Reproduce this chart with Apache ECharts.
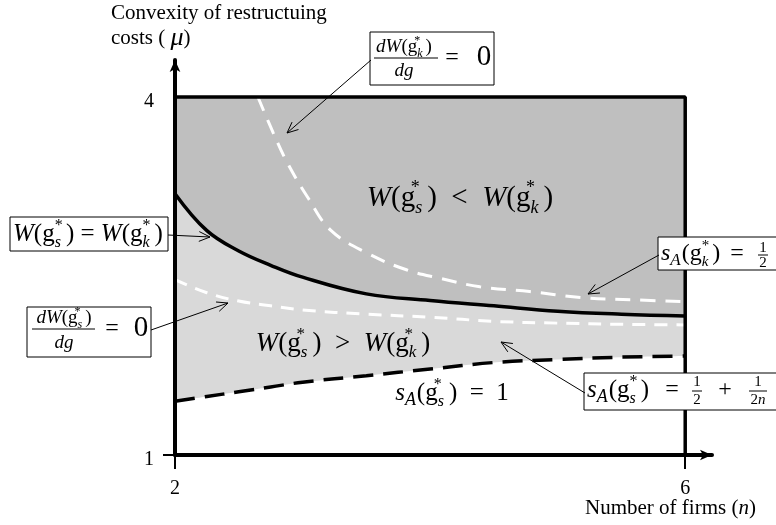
<!DOCTYPE html>
<html>
<head>
<meta charset="utf-8">
<script src="https://cdn.jsdelivr.net/npm/echarts@6/dist/echarts.min.js"></script>
<style>
  html, body { margin: 0; padding: 0; background: #fff; }
  #chart { width: 776px; height: 525px; }
</style>
</head>
<body>
<div id="chart"></div>
<script>
// values (n on x, mu on y)
const nGrid = [2, 2.25, 2.5, 2.75, 3, 3.5, 4, 4.5, 5, 5.5, 6];
const muWelfareEqual = [3.19, 2.88, 2.71, 2.59, 2.49, 2.35, 2.295, 2.25, 2.205, 2.18, 2.165];
const muShareBound = [1.45, 1.49, 1.53, 1.57, 1.61, 1.665, 1.72, 1.775, 1.8, 1.82, 1.83];
const muFocSym = [2.47, 2.36, 2.29, 2.25, 2.215, 2.18, 2.155, 2.12, 2.105, 2.095, 2.09];
const nFocKnown = [2.65, 2.77, 2.88, 3.04, 3.22, 3.51, 3.82, 4.08, 4.39, 4.78, 5.18, 5.6, 6];
const muFocKnown = [4.0, 3.7, 3.45, 3.16, 2.885, 2.69, 2.55, 2.48, 2.41, 2.37, 2.32, 2.3, 2.285];
const xTicks = [2, 6];
const yTicks = [1, 4];

const SERIF = '"Liberation Serif", "Times New Roman", serif';
const chart = echarts.init(document.getElementById('chart'));

const pairs = (xs, ys) => xs.map((x, i) => [x, ys[i]]);

function mathRich(f) {
  const lh = Math.round(f * 1.3);
  return {
    i: { fontFamily: SERIF, fontStyle: 'italic', fontSize: f, lineHeight: lh, fill: '#000' },
    r: { fontFamily: SERIF, fontSize: f, lineHeight: lh, fill: '#000' },
    mu: { fontFamily: SERIF, fontStyle: 'italic', fontSize: Math.round(f * 1.25), lineHeight: lh, fill: '#000' },
    sup: { fontFamily: SERIF, fontSize: Math.round(f * 0.62), lineHeight: Math.round(f * 0.75), verticalAlign: 'top', width: 0, fill: '#000' },
    sub: { fontFamily: SERIF, fontStyle: 'italic', fontSize: Math.round(f * 0.62), lineHeight: Math.round(f * 0.75), verticalAlign: 'bottom', padding: [0, Math.round(f * 0.18), 0, 0], fill: '#000' },
    subA: { fontFamily: SERIF, fontStyle: 'italic', fontSize: Math.round(f * 0.7), lineHeight: Math.round(f * 0.8), verticalAlign: 'bottom', padding: [0, 1, 0, 0], fill: '#000' }
  };
}

const gStar = (s) => `{r|g}{sup|*}{sub|${s}}`;
const W = (s) => `{i|W}{r|(}${gStar(s)}{r|)}`;
const sA = (s) => `{i|s}{subA|A}{r|(}${gStar(s)}{r|)}`;

function txt(x, y, text, f, align, vAlign) {
  return {
    type: 'text', x, y, z: 100,
    style: { text, rich: mathRich(f), align: align || 'left', verticalAlign: vAlign || 'middle', fill: '#000' }
  };
}

function box(x, y, w, h) {
  return { type: 'rect', z: 99, shape: { x, y, width: w, height: h }, style: { fill: '#fff', stroke: '#000', lineWidth: 1 } };
}

function hline(x1, x2, y) {
  return { type: 'line', z: 100, shape: { x1, y1: y, x2, y2: y }, style: { stroke: '#000', lineWidth: 1 } };
}

function arrow(x1, y1, x2, y2) {
  const a = Math.atan2(y2 - y1, x2 - x1);
  const len = 12;
  const s = 0.42;
  return [
    { type: 'line', z: 100, shape: { x1, y1, x2, y2 }, style: { stroke: '#000', lineWidth: 1 } },
    {
      type: 'polyline', z: 100,
      shape: {
        points: [
          [x2 - len * Math.cos(a - s), y2 - len * Math.sin(a - s)],
          [x2, y2],
          [x2 - len * Math.cos(a + s), y2 - len * Math.sin(a + s)]
        ]
      },
      style: { stroke: '#000', lineWidth: 1, fill: null }
    }
  ];
}

const graphics = [
  // axis titles
  txt(111, 13, '{r|Convexity of restructuing}', 21, 'left', 'middle'),
  txt(111, 38, '{r|costs ( }{mu|μ}{r|)}', 21, 'left', 'middle'),
  txt(585, 508, '{r|Number of firms (}{i|n}{r|)}', 21, 'left', 'middle'),

  // region labels
  txt(460, 198, `${W('s')}{r|  <  }${W('k')}`, 29, 'center', 'middle'),
  txt(343, 344, `${W('s')}{r|  >  }${W('k')}`, 27, 'center', 'middle'),
  txt(452, 393, `${sA('s')}{r|  =  1}`, 25, 'center', 'middle'),

  // dW(gk)/dg = 0
  box(370, 32, 124, 53),
  txt(404, 47, `{i|dW}{r|(}${gStar('k')}{r|)}`, 19, 'center', 'middle'),
  hline(374, 438, 58),
  txt(404, 71, '{i|dg}', 19, 'center', 'middle'),
  txt(452, 58, '{r|=}', 24, 'center', 'middle'),
  txt(484, 57, '{r|0}', 29, 'center', 'middle'),
  ...arrow(371, 60, 287, 133),

  // W(gs) = W(gk)
  box(10, 217, 158, 34),
  txt(13, 234, `${W('s')}{r| = }${W('k')}`, 25, 'left', 'middle'),
  ...arrow(168, 235, 210, 237),

  // dW(gs)/dg = 0
  box(27, 307, 124, 50),
  txt(64, 318, `{i|dW}{r|(}${gStar('s')}{r|)}`, 19, 'center', 'middle'),
  hline(32, 95, 329),
  txt(64, 343, '{i|dg}', 19, 'center', 'middle'),
  txt(112, 329, '{r|=}', 24, 'center', 'middle'),
  txt(141, 328, '{r|0}', 29, 'center', 'middle'),
  ...arrow(151, 330, 228, 303),

  // sA(gk) = 1/2
  box(658, 237, 124, 33),
  txt(661, 254, sA('k'), 24, 'left', 'middle'),
  txt(737, 254, '{r|=}', 24, 'center', 'middle'),
  txt(763, 248, '{r|1}', 15, 'center', 'middle'),
  hline(758, 768, 255),
  txt(763, 263, '{r|2}', 15, 'center', 'middle'),
  ...arrow(659, 255, 588, 294),

  // sA(gs) = 1/2 + 1/(2n)
  box(584, 373, 198, 37),
  txt(587, 390, sA('s'), 25, 'left', 'middle'),
  txt(672, 390, '{r|=}', 24, 'center', 'middle'),
  txt(697, 382, '{r|1}', 15, 'center', 'middle'),
  hline(692, 702, 391),
  txt(697, 400, '{r|2}', 15, 'center', 'middle'),
  txt(725, 390, '{r|+}', 24, 'center', 'middle'),
  txt(758, 382, '{r|1}', 15, 'center', 'middle'),
  hline(749, 767, 391),
  txt(758, 400, '{r|2}{i|n}', 15, 'center', 'middle'),
  ...arrow(585, 393, 501, 342)
];

chart.setOption({
  animation: false,
  grid: { left: 175, right: 64, top: 60, bottom: 70 },
  xAxis: {
    type: 'value', min: 2, max: 6.21, z: 10,
    axisLine: { show: true, symbol: ['none', 'arrow'], symbolSize: [8, 12], lineStyle: { color: '#000', width: 4 } },
    axisTick: { show: true, customValues: xTicks, length: 14, lineStyle: { color: '#000', width: 2 } },
    axisLabel: { customValues: xTicks, margin: 24, fontFamily: SERIF, fontSize: 20, color: '#000' },
    splitLine: { show: false }
  },
  yAxis: {
    type: 'value', min: 1, max: 4.31, z: 10,
    axisLine: { show: true, symbol: ['none', 'arrow'], symbolSize: [8, 12], lineStyle: { color: '#000', width: 4 } },
    axisTick: { show: true, customValues: [yTicks[0]], length: 12, lineStyle: { color: '#000', width: 2 } },
    axisLabel: { customValues: yTicks, margin: 21, verticalAlign: 'top', lineHeight: 10, fontFamily: SERIF, fontSize: 20, color: '#000' },
    splitLine: { show: false }
  },
  series: [
    {
      // dark region: W(gs) < W(gk)
      type: 'line', z: 1, silent: true, symbol: 'none',
      data: [[xTicks[0], yTicks[0]]],
      markArea: {
        silent: true,
        itemStyle: { color: '#bfbfbf' },
        data: [[{ coord: [xTicks[0], yTicks[1]] }, { coord: [xTicks[1], yTicks[0]] }]]
      }
    },
    {
      // W(gs) = W(gk)
      type: 'line', z: 2, silent: true, symbol: 'none', smooth: 0.4,
      data: pairs(nGrid, muWelfareEqual),
      lineStyle: { color: '#000', width: 3.5 },
      areaStyle: { color: '#d9d9d9', opacity: 1, origin: 'start' }
    },
    {
      // sA(gs) = 1/2 + 1/(2n)
      type: 'line', z: 3, silent: true, symbol: 'none', smooth: 0.4,
      data: pairs(nGrid, muShareBound),
      lineStyle: { color: '#000', width: 3.5, type: [20, 10] },
      areaStyle: { color: '#ffffff', opacity: 1, origin: 'start' }
    },
    {
      // dW(gs)/dg = 0
      type: 'line', z: 4, silent: true, symbol: 'none', smooth: 0.4,
      data: pairs(nGrid, muFocSym),
      lineStyle: { color: '#ffffff', width: 3, type: [13, 9] }
    },
    {
      // dW(gk)/dg = 0
      type: 'line', z: 4, silent: true, symbol: 'none', smooth: 0.4,
      data: pairs(nFocKnown, muFocKnown),
      lineStyle: { color: '#ffffff', width: 3, type: [15, 10] }
    },
    {
      // box top and right edges
      type: 'line', z: 5, silent: true, symbol: 'none',
      data: [[xTicks[0], yTicks[1]], [xTicks[1], yTicks[1]], [xTicks[1], yTicks[0]]],
      lineStyle: { color: '#000', width: 3.5 }
    }
  ],
  graphic: graphics
});
</script>
</body>
</html>
